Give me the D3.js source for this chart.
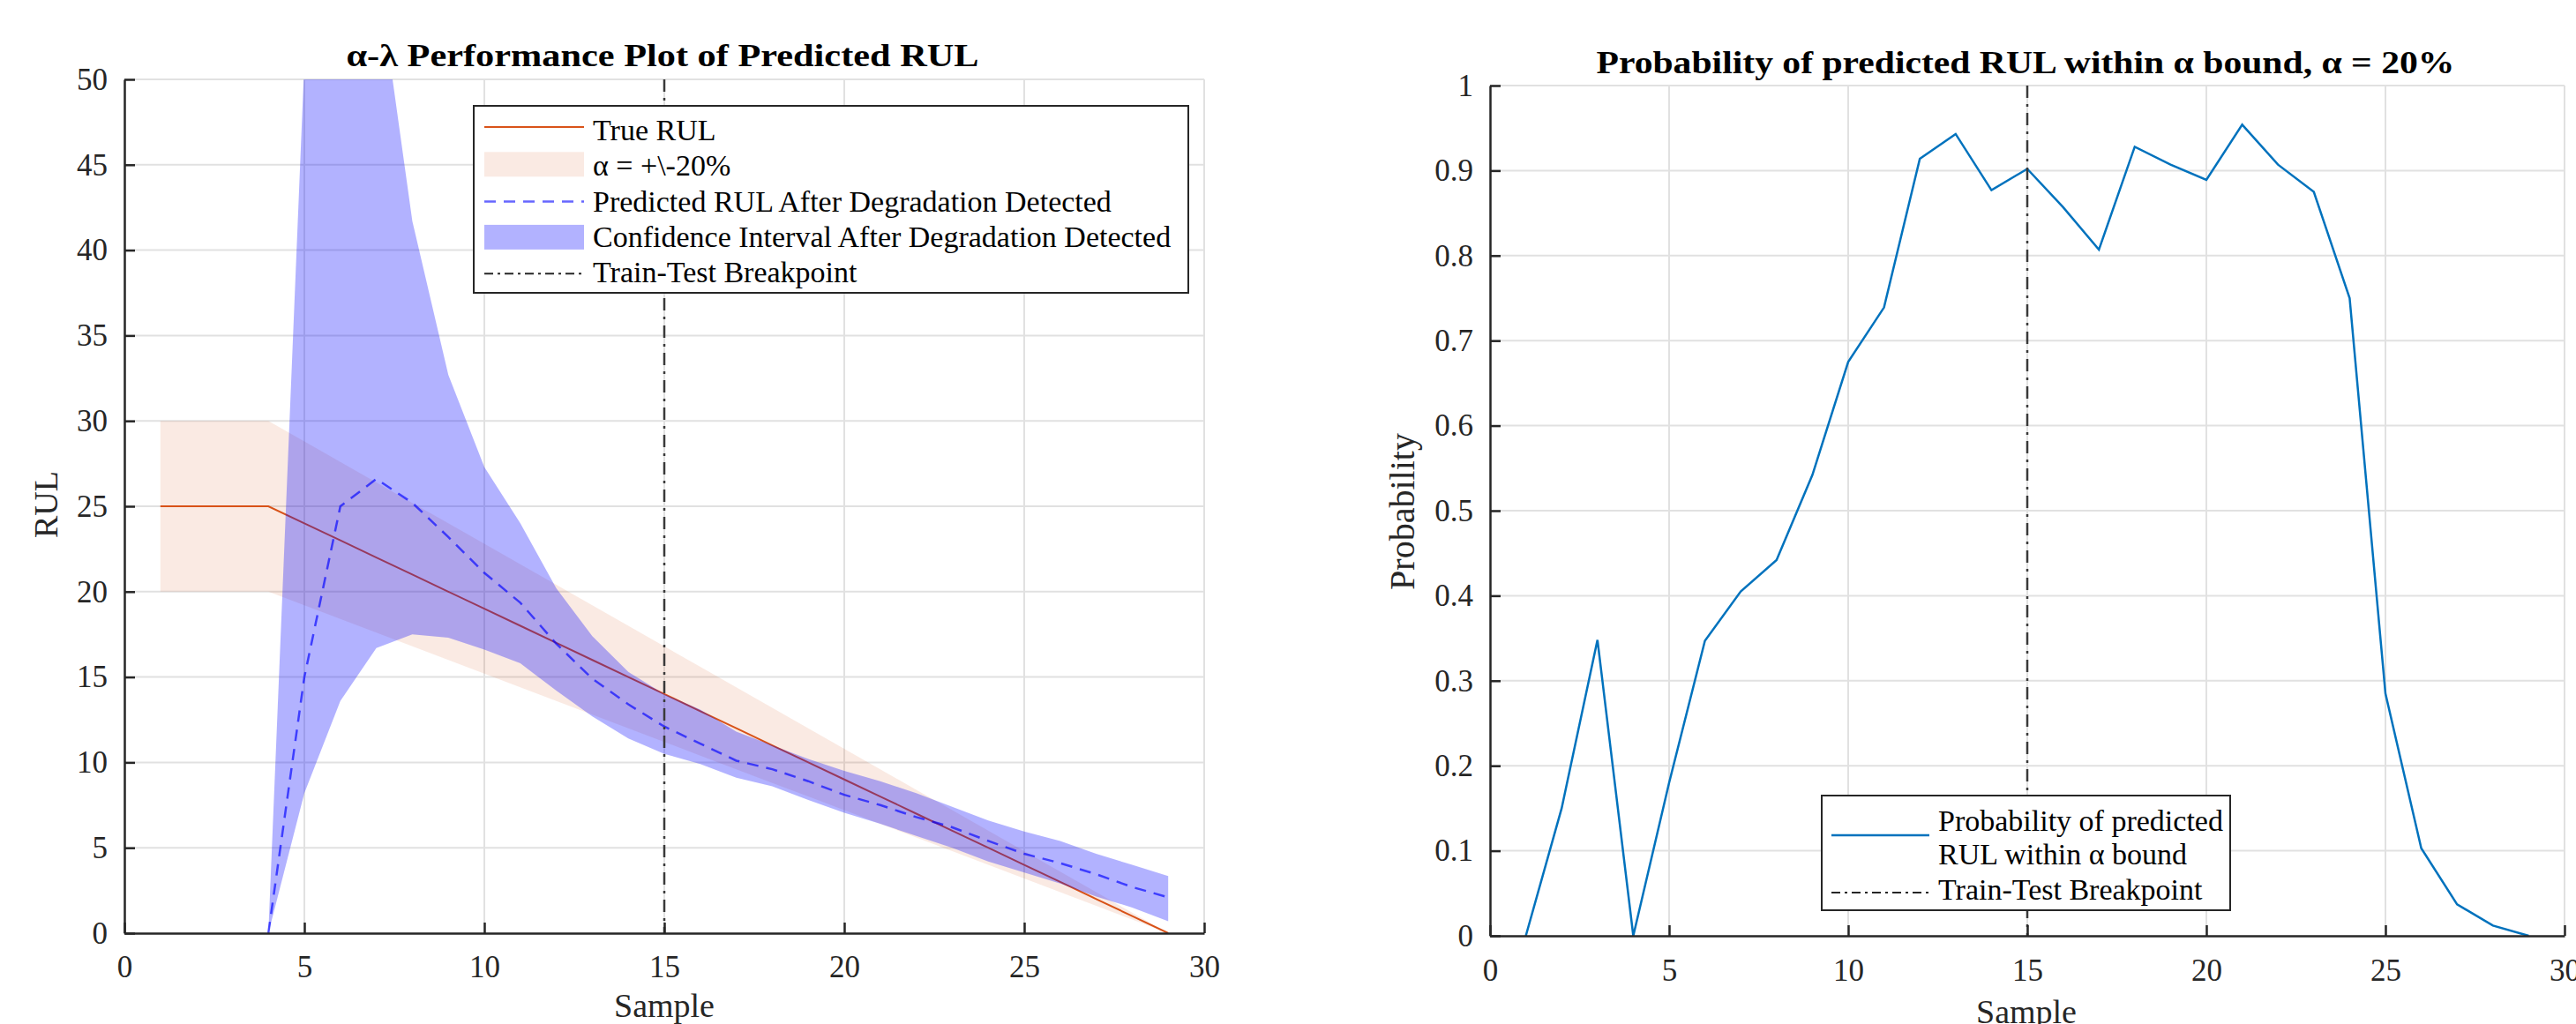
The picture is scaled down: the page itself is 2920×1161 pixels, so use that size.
<!DOCTYPE html>
<meta charset="utf-8">
<style>
    body { margin: 0; background: #fff; }
    svg { font-family: "Liberation Serif", "Times New Roman", serif; }
    .grid line { stroke: #e1e1e1; stroke-width: 2; }
    .axis path, .axis line { stroke: #262626; stroke-width: 2.5; }
    .axis text { font-size: 35px; fill: #262626; font-family: "Liberation Serif", "Times New Roman", serif; }
    .legend text { font-size: 34px; fill: #000; }
    .title { font-size: 35px; font-weight: bold; fill: #000; }
    .label { fill: #262626; }
</style>

<body>
    <svg width="2920" height="1161"></svg>
    <script src="https://d3js.org/d3.v7.min.js"></script>
    <script>
        // ---- data ----
        var samples = [1, 2, 3, 4, 5, 6, 7, 8, 9, 10, 11, 12, 13, 14, 15, 16, 17, 18, 19, 20, 21, 22, 23, 24, 25, 26, 27, 28, 29];
        var trueRUL = [25, 25, 25, 25, 24, 23, 22, 21, 20, 19, 18, 17, 16, 15, 14, 13, 12, 11, 10, 9, 8, 7, 6, 5, 4, 3, 2, 1, 0];
        var alphaUpper = [30, 30, 30, 30, 28.8, 27.6, 26.4, 25.2, 24, 22.8, 21.6, 20.4, 19.2, 18, 16.8, 15.6, 14.4, 13.2, 12, 10.8, 9.6, 8.4, 7.2, 6, 4.8, 3.6, 2.4, 1.2, 0];
        var alphaLower = [20, 20, 20, 20, 19.2, 18.4, 17.6, 16.8, 16, 15.2, 14.4, 13.6, 12.8, 12, 11.2, 10.4, 9.6, 8.8, 8, 7.2, 6.4, 5.6, 4.8, 4, 3.2, 2.4, 1.6, 0.8, 0];

        var predSamples = [4, 5, 6, 7, 8, 9, 10, 11, 12, 13, 14, 15, 16, 17, 18, 19, 20, 21, 22, 23, 24, 25, 26, 27, 28, 29];
        var predRUL = [0, 15, 25, 26.6, 25.2, 23.2, 21.1, 19.35, 16.95, 14.9, 13.4, 12.1, 11.1, 10.1, 9.6, 8.9, 8.1, 7.5, 6.8, 6.2, 5.4, 4.65, 4.1, 3.45, 2.7, 2.1];
        var ciUpper = [0, 51, 60, 56.8, 41.7, 32.7, 27.3, 24.0, 20.2, 17.4, 15.3, 14.0, 13.1, 11.8, 11.0, 10.2, 9.5, 8.9, 8.2, 7.4, 6.6, 5.95, 5.4, 4.65, 4.0, 3.35];
        var ciLower = [0, 8.2, 13.6, 16.7, 17.5, 17.3, 16.6, 15.8, 14.2, 12.7, 11.4, 10.5, 9.9, 9.1, 8.6, 7.8, 7.05, 6.4, 5.7, 5.0, 4.2, 3.55, 2.9, 2.15, 1.5, 0.7];

        var probability = [0, 0.15, 0.348, 0, 0.18, 0.347, 0.405, 0.442, 0.542, 0.675, 0.739, 0.914, 0.943, 0.877, 0.902, 0.857, 0.807, 0.928, 0.907, 0.889, 0.954, 0.907, 0.875, 0.75, 0.285, 0.103, 0.037, 0.012, 0];

        var breakpoint = 15;
        var xTicks = [0, 5, 10, 15, 20, 25, 30];
        var rulTicks = [0, 5, 10, 15, 20, 25, 30, 35, 40, 45, 50];
        var probTicks = [0, 0.1, 0.2, 0.3, 0.4, 0.5, 0.6, 0.7, 0.8, 0.9, 1];
        var probTickLabels = ["0", "0.1", "0.2", "0.3", "0.4", "0.5", "0.6", "0.7", "0.8", "0.9", "1"];

        var legendLeft = ["True RUL", "\u03b1 = +\\-20%", "Predicted RUL After Degradation Detected",
            "Confidence Interval After Degradation Detected", "Train-Test Breakpoint"];
        var legendRight = ["Probability of predicted", "RUL within \u03b1 bound", "Train-Test Breakpoint"];

        var trueColor = "#D95319",
            bandColor = "rgb(217,83,25)",
            ciColor = "rgb(0,0,255)",
            probColor = "#0072BD",
            dashDot = "14,7,3,7";

        var serif = "'Liberation Serif', 'Times New Roman', serif";
        var svg = d3.select("svg");

        // ---- shared helpers ----
        function drawGrid(g, x, y, xt, yt, w, h) {
            var grid = g.append("g").attr("class", "grid");
            grid.selectAll(".gx").data(xt.filter(function (d) { return d > 0; })).enter()
                .append("line")
                .attr("x1", function (d) { return x(d); }).attr("x2", function (d) { return x(d); })
                .attr("y1", 0).attr("y2", h);
            grid.selectAll(".gy").data(yt.filter(function (d, i) { return i > 0; })).enter()
                .append("line")
                .attr("y1", function (d) { return y(d); }).attr("y2", function (d) { return y(d); })
                .attr("x1", 0).attr("x2", w);
        }

        function drawAxes(g, x, y, yt, yfmt, h, xpad) {
            var ax = g.append("g")
                .attr("class", "axis")
                .attr("transform", "translate(0," + h + ")")
                .call(d3.axisBottom(x).tickValues(xTicks).tickSizeInner(-12).tickSizeOuter(0).tickPadding(xpad));
            var ay = g.append("g")
                .attr("class", "axis")
                .call(d3.axisLeft(y).tickValues(yt).tickFormat(yfmt).tickSizeInner(-12).tickSizeOuter(0).tickPadding(19));
            ax.attr("font-family", serif);
            ay.attr("font-family", serif);
        }

        /*************** left : alpha-lambda plot ***************/
        var L = { left: 141, top: 90, width: 1224, height: 968 };
        var gL = svg.append("g").attr("transform", "translate(" + L.left + "," + L.top + ")");

        var x1 = d3.scaleLinear().domain([0, 30]).range([0, L.width]),
            y1 = d3.scaleLinear().domain([0, 50]).range([L.height, 0]);

        gL.append("clipPath").attr("id", "clipL")
            .append("rect").attr("width", L.width).attr("height", L.height);

        drawGrid(gL, x1, y1, xTicks, rulTicks, L.width, L.height);

        var plotL = gL.append("g").attr("clip-path", "url(#clipL)");

        var trueData = samples.map(function (s, i) {
            return { x: s, v: trueRUL[i], lo: alphaLower[i], hi: alphaUpper[i] };
        });
        var predData = predSamples.map(function (s, i) {
            return { x: s, v: predRUL[i], lo: ciLower[i], hi: ciUpper[i] };
        });

        var lineL = d3.line().x(function (d) { return x1(d.x); }).y(function (d) { return y1(d.v); });
        var areaL = d3.area().x(function (d) { return x1(d.x); })
            .y0(function (d) { return y1(d.lo); }).y1(function (d) { return y1(d.hi); });

        plotL.append("path").datum(trueData)
            .attr("d", lineL).attr("fill", "none")
            .attr("stroke", trueColor).attr("stroke-width", 2);

        plotL.append("path").datum(trueData)
            .attr("d", areaL).attr("fill", bandColor).attr("fill-opacity", 0.12);

        plotL.append("path").datum(predData)
            .attr("d", lineL).attr("fill", "none")
            .attr("stroke", ciColor).attr("stroke-opacity", 0.65)
            .attr("stroke-width", 2.5).attr("stroke-dasharray", "13,9");

        plotL.append("path").datum(predData)
            .attr("d", areaL).attr("fill", ciColor).attr("fill-opacity", 0.3);

        plotL.append("line")
            .attr("x1", x1(breakpoint)).attr("x2", x1(breakpoint))
            .attr("y1", 0).attr("y2", L.height)
            .attr("stroke", "#3a3a3a").attr("stroke-width", 2.5)
            .attr("stroke-dasharray", dashDot);

        drawAxes(gL, x1, y1, rulTicks, function (d) { return d; }, L.height, 25);

        // labels
        svg.append("text").attr("class", "title")
            .attr("x", 751).attr("y", 75)
            .attr("text-anchor", "middle")
            .attr("textLength", 717).attr("lengthAdjust", "spacingAndGlyphs")
            .text("\u03b1-\u03bb Performance Plot of Predicted RUL");

        svg.append("text").attr("class", "label")
            .attr("x", 753).attr("y", 1153)
            .attr("text-anchor", "middle").style("font-size", "38px")
            .text("Sample");

        svg.append("text").attr("class", "label")
            .attr("transform", "translate(65,572) rotate(-90)")
            .attr("text-anchor", "middle").style("font-size", "38px")
            .text("RUL");

        // legend
        var lgL = svg.append("g").attr("class", "legend");
        lgL.append("rect")
            .attr("x", 537).attr("y", 120).attr("width", 810).attr("height", 212)
            .attr("fill", "#fff").attr("stroke", "#262626").attr("stroke-width", 2);

        var rowL = function (i) { return 159 + i * 40.3; };
        lgL.append("line").attr("x1", 549).attr("x2", 662)
            .attr("y1", rowL(0) - 15).attr("y2", rowL(0) - 15)
            .attr("stroke", trueColor).attr("stroke-width", 2);
        lgL.append("rect").attr("x", 549).attr("width", 113)
            .attr("y", rowL(1) - 27).attr("height", 28)
            .attr("fill", bandColor).attr("fill-opacity", 0.12);
        lgL.append("line").attr("x1", 549).attr("x2", 662)
            .attr("y1", rowL(2) - 11).attr("y2", rowL(2) - 11)
            .attr("stroke", ciColor).attr("stroke-opacity", 0.6)
            .attr("stroke-width", 2.5).attr("stroke-dasharray", "13,9");
        lgL.append("rect").attr("x", 549).attr("width", 113)
            .attr("y", rowL(3) - 25).attr("height", 28)
            .attr("fill", ciColor).attr("fill-opacity", 0.3);
        lgL.append("line").attr("x1", 549).attr("x2", 662)
            .attr("y1", rowL(4) - 10).attr("y2", rowL(4) - 10)
            .attr("stroke", "#262626").attr("stroke-width", 2)
            .attr("stroke-dasharray", "10,5,3,5");

        lgL.selectAll(".lt").data(legendLeft).enter()
            .append("text")
            .attr("x", 672).attr("y", function (d, i) { return rowL(i); })
            .attr("font-family", serif)
            .text(function (d) { return d; });

        /*************** right : probability plot ***************/
        var R = { left: 1689, top: 97, width: 1218, height: 964 };
        var gR = svg.append("g").attr("transform", "translate(" + R.left + "," + R.top + ")");

        var x2 = d3.scaleLinear().domain([0, 30]).range([0, R.width]),
            y2 = d3.scaleLinear().domain([0, 1]).range([R.height, 0]);

        drawGrid(gR, x2, y2, xTicks, probTicks, R.width, R.height);

        var probData = samples.map(function (s, i) { return { x: s, v: probability[i] }; });

        gR.append("path").datum(probData)
            .attr("d", d3.line().x(function (d) { return x2(d.x); }).y(function (d) { return y2(d.v); }))
            .attr("fill", "none").attr("stroke", probColor).attr("stroke-width", 2.5);

        gR.append("line")
            .attr("x1", x2(breakpoint)).attr("x2", x2(breakpoint))
            .attr("y1", 0).attr("y2", R.height)
            .attr("stroke", "#3a3a3a").attr("stroke-width", 2.5)
            .attr("stroke-dasharray", dashDot);

        drawAxes(gR, x2, y2, probTicks, function (d, i) { return probTickLabels[i]; }, R.height, 26);

        svg.append("text").attr("class", "title")
            .attr("x", 2296).attr("y", 83)
            .attr("text-anchor", "middle")
            .attr("textLength", 973).attr("lengthAdjust", "spacingAndGlyphs")
            .text("Probability of predicted RUL within \u03b1 bound, \u03b1 = 20%");

        svg.append("text").attr("class", "label")
            .attr("x", 2297).attr("y", 1160)
            .attr("text-anchor", "middle").style("font-size", "38px")
            .text("Sample");

        svg.append("text").attr("class", "label")
            .attr("transform", "translate(1603,580) rotate(-90)")
            .attr("text-anchor", "middle").style("font-size", "40px")
            .text("Probability");

        var lgR = svg.append("g").attr("class", "legend");
        lgR.append("rect")
            .attr("x", 2065).attr("y", 902).attr("width", 463).attr("height", 130)
            .attr("fill", "#fff").attr("stroke", "#262626").attr("stroke-width", 2);
        lgR.append("line").attr("x1", 2076).attr("x2", 2187)
            .attr("y1", 947).attr("y2", 947)
            .attr("stroke", probColor).attr("stroke-width", 2.5);
        lgR.append("line").attr("x1", 2076).attr("x2", 2187)
            .attr("y1", 1012).attr("y2", 1012)
            .attr("stroke", "#262626").attr("stroke-width", 2)
            .attr("stroke-dasharray", "10,5,3,5");
        lgR.selectAll(".lt").data(legendRight).enter()
            .append("text")
            .attr("x", 2197).attr("y", function (d, i) { return [942, 980, 1020][i]; })
            .attr("font-family", serif)
            .text(function (d) { return d; });
    </script>
</body>
